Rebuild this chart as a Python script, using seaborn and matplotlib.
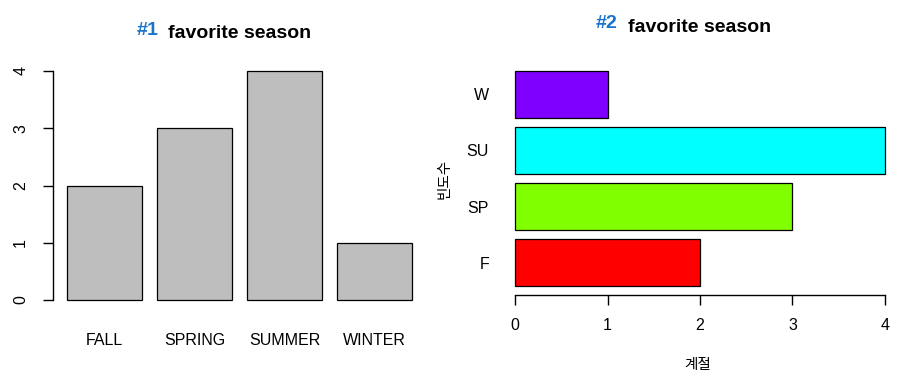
import matplotlib
matplotlib.use("Agg")
import matplotlib.pyplot as plt
import seaborn as sns
import pandas as pd

seasons = ["FALL", "SPRING", "SUMMER", "WINTER"]
short_labels = ["F", "SP", "SU", "W"]
counts = [2, 3, 4, 1]
bar_colors = ["#FF0000", "#7FFF00", "#00FFFF", "#8000FF"]
title_text = "favorite season"
x_label2 = "계절"
y_label2 = "빈도수"

sns.set_theme(style="white")
plt.rcParams["font.family"] = ["Liberation Sans", "Noto Sans CJK KR", "DejaVu Sans"]

df1 = pd.DataFrame({"season": seasons, "count": counts})
df2 = pd.DataFrame({"season": short_labels, "count": counts})

W, H = 911, 381
fig = plt.figure(figsize=(W / 100, H / 100), dpi=100)

def rect(l, t, r, b):
    return [l / W, 1 - b / H, (r - l) / W, (b - t) / H]

# ---- Panel 1 ----
ax1 = fig.add_axes(rect(53.2, 61.8, 425.8, 309.2))
sns.barplot(data=df1, x="season", y="count", order=seasons, color="#BEBEBE",
            saturation=1, width=1 / 1.2, edgecolor="black", linewidth=0.9, ax=ax1)
ax1.set_xlim(-0.57, 3.57)
ax1.set_ylim(-0.16, 4.16)
for s in ["top", "right", "bottom"]:
    ax1.spines[s].set_visible(False)
ax1.spines["left"].set_bounds(0, 4)
ax1.spines["left"].set_color("black")
ax1.spines["left"].set_linewidth(1.0)
ax1.set_yticks([0, 1, 2, 3, 4])
ax1.tick_params(axis="y", left=True, length=7, width=1.0, color="black",
                pad=11, labelsize=11.5, labelcolor="black")
for lab in ax1.get_yticklabels():
    lab.set_rotation(90)
    lab.set_va("center")
ax1.tick_params(axis="x", bottom=False, length=0, pad=17, labelsize=11.5, labelcolor="black")
ax1.set_xlabel("")
ax1.set_ylabel("")
ax1.set_title(title_text, fontsize=14, fontweight="bold", pad=17, color="black")
fig.text(148 / W, 1 - 35 / H, "#1", color="#1874CD", fontsize=14, fontweight="bold",
         ha="center", va="baseline")

# ---- Panel 2 ----
ax2 = fig.add_axes(rect(500.2, 62.4, 899.8, 294.6))
sns.barplot(data=df2, y="season", x="count", order=short_labels, orient="h",
            hue="season", hue_order=short_labels, palette=bar_colors, legend=False,
            saturation=1, width=1 / 1.2, edgecolor="black", linewidth=0.9, ax=ax2)
ax2.set_xlim(-0.16, 4.16)
ax2.set_ylim(-0.57, 3.57)
for s in ["top", "right", "left"]:
    ax2.spines[s].set_visible(False)
ax2.spines["bottom"].set_bounds(0, 4)
ax2.spines["bottom"].set_color("black")
ax2.spines["bottom"].set_linewidth(1.0)
ax2.set_xticks([0, 1, 2, 3, 4])
ax2.tick_params(axis="x", bottom=True, length=7, width=1.0, color="black",
                pad=10, labelsize=11.5, labelcolor="black")
ax2.tick_params(axis="y", left=False, length=0, pad=8, labelsize=11.5, labelcolor="black")
ax2.set_xlabel(x_label2, fontsize=10.5, color="black")
ax2.xaxis.set_label_coords((698 - 500.2) / 399.6, (294.6 - 365) / 232.2)
ax2.xaxis.label.set_va("center")
ax2.set_ylabel(y_label2, fontsize=10.5, color="black")
ax2.yaxis.set_label_coords((445 - 500.2) / 399.6, 0.5)
ax2.yaxis.label.set_va("center")
ax2.set_title(title_text, fontsize=14, fontweight="bold", pad=22, color="black")
fig.text(606.5 / W, 1 - 28.3 / H, "#2", color="#1874CD", fontsize=14, fontweight="bold",
         ha="center", va="baseline")

fig.savefig("out.png", dpi=100, facecolor="white")
